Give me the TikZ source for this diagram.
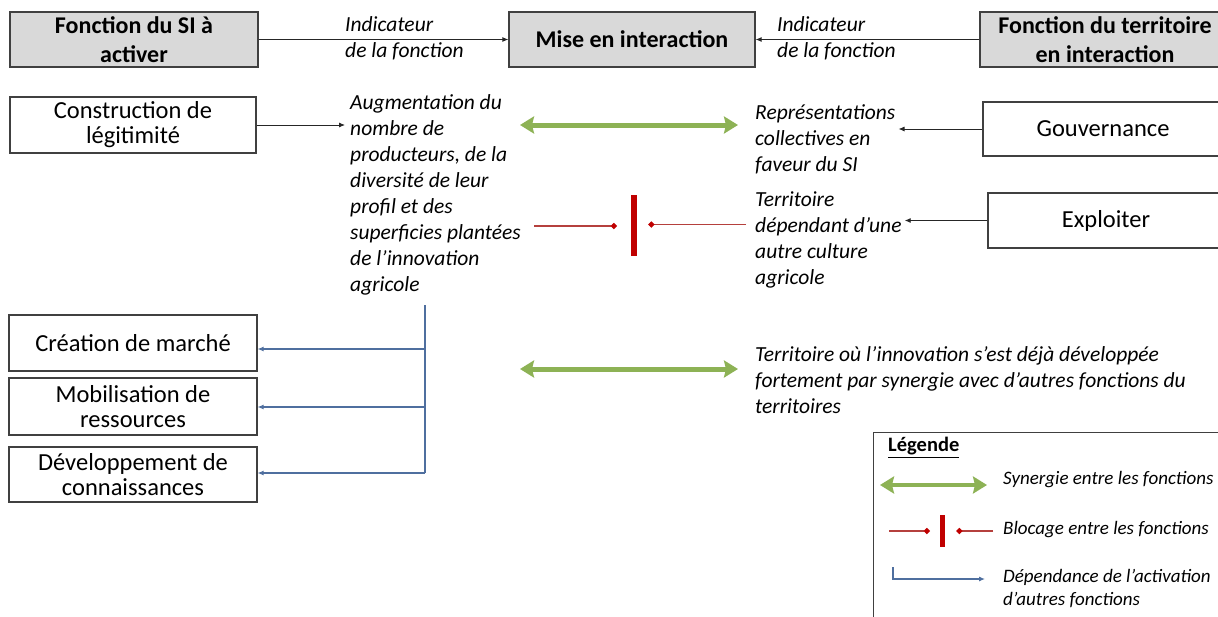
\documentclass[tikz,border=0pt]{standalone}
\usepackage{fontspec}
\setmainfont{Carlito}
\usetikzlibrary{arrows.meta}
\definecolor{grn}{HTML}{8DB255}
\definecolor{redbar}{HTML}{C00000}
\definecolor{redln}{HTML}{B5403D}
\definecolor{blu}{HTML}{4F6F9F}
\definecolor{boxgray}{HTML}{D9D9D9}
\definecolor{edge}{HTML}{404040}
\tikzset{
  hbox/.style={draw=edge, line width=1.2pt, fill=boxgray, align=center, inner sep=0pt,
    font=\fontsize{24}{29}\selectfont\bfseries},
  fbox/.style={draw=edge, line width=1.1pt, fill=white, align=center, inner sep=0pt,
    font=\fontsize{24.5}{25}\selectfont},
  itxt/.style={align=left, inner sep=0pt, font=\fontsize{21.5}{26}\selectfont\itshape},
  ltxt/.style={align=left, inner sep=0pt, font=\fontsize{19}{23}\selectfont\itshape},
  blk/.style={draw=black!85, line width=0.9pt, -{Latex[length=6pt,width=5pt]}},
  syn/.style={draw=grn, line width=5pt, {Stealth[length=14pt,width=17pt,inset=2pt]}-{Stealth[length=14pt,width=17pt,inset=2pt]}},
  blkln/.style={draw=redln, line width=1.3pt, -{Diamond[length=6.5pt,width=6.5pt,fill=redbar,color=redbar]}},
  bar/.style={draw=none, fill=redbar},
  dep/.style={draw=blu, line width=1.1pt},
  deparr/.style={draw=blu, line width=1.1pt, -{Latex[length=6pt,width=5pt]}},
}
\begin{document}
\begin{tikzpicture}[x=1pt,y=-1pt]
\useasboundingbox (0,0) rectangle (1218,616);
\clip (0,0) rectangle (1218,616);

% header
\node[hbox, minimum width=248pt, minimum height=55pt] (si) at (134,39.5) {Fonction du SI à\\activer};
\node[hbox, minimum width=246pt, minimum height=55pt] (mise) at (632,39.5) {Mise en interaction};
\node[hbox, minimum width=250pt, minimum height=55pt] (terr) at (1105,39.5) {Fonction du territoire\\en interaction};
\draw[blk] (si.east) -- (mise.west);
\draw[blk] (terr.west) -- (mise.east);
\node[itxt, anchor=west] (ind1) at (345,38.5) {Indicateur\\de la fonction};
\node[itxt, anchor=west] (ind2) at (777,38.5) {Indicateur\\de la fonction};

% row 1
\node[fbox, minimum width=246pt, minimum height=56pt] (constr) at (133,125) {Construction de\\légitimité};
\node[itxt, anchor=west] (aug) at (350,195) {Augmentation du\\nombre de\\producteurs, de la\\diversité de leur\\profil et des\\superficies plantées\\de l’innovation\\agricole};
\draw[blk] (constr.east) -- ([xshift=-5pt]aug.west |- constr.east);

\node[itxt, anchor=west] (rep) at (755,139) {Représentations\\collectives en\\faveur du SI};
\node[fbox, minimum width=240pt, minimum height=54pt] (gouv) at (1103,129) {Gouvernance};
\draw[blk] (gouv.west) -- ([xshift=3pt]rep.east |- gouv.west);
\draw[syn] (520,125) coordinate (s1a) -- ([xshift=-17pt]rep.west |- s1a);

% row 2 blocage
\node[itxt, anchor=west] (ter) at (755,240) {Territoire\\dépendant d’une\\autre culture\\agricole};
\node[fbox, minimum width=236pt, minimum height=55pt] (expl) at (1106,220.5) {Exploiter};
\draw[blk] (expl.west) -- ([xshift=3pt]ter.east |- expl.west);
\node[bar, minimum width=6pt, minimum height=61pt, inner sep=0pt] (barm) at (634,225.5) {};
\draw[blkln] (534,226) coordinate (r0) -- ([xshift=-17pt]barm.center |- r0);
\draw[blkln] ([xshift=-9pt]ter.west |- 0,224.5) -- ([xshift=14pt]barm.center |- 0,224.5);

% dependance
\node[fbox, minimum width=248pt, minimum height=56pt] (marche) at (133,343) {Création de marché};
\node[fbox, minimum width=248pt, minimum height=57pt] (mobil) at (133,406.5) {Mobilisation de\\ressources};
\node[fbox, minimum width=248pt, minimum height=55pt] (devel) at (133,474.5) {Développement de\\connaissances};
\coordinate (vtop) at (425,305);
\coordinate (vbot) at (425,473);
\draw[dep] (vtop) -- (vbot);
\draw[deparr] (vtop |- 0,349) -- (marche.east |- 0,349);
\draw[deparr] (vtop |- 0,407) -- (mobil.east |- 0,407);
\draw[deparr] (vbot) -- (devel.east |- vbot);

% row 3
\node[itxt, anchor=west] (dev) at (755,380) {Territoire où l’innovation s’est déjà développée\\fortement par synergie avec d’autres fonctions du\\territoires};
\draw[syn] (520,369) coordinate (s3a) -- ([xshift=-17pt]dev.west |- s3a);

% legend
\node[draw=edge, line width=1.1pt, fill=white, minimum width=360pt, minimum height=200pt, anchor=north west, inner sep=0pt] (leg) at (873,432) {};
\node[anchor=west, inner sep=0pt, font=\fontsize{20.5}{22}\selectfont\bfseries] (legt) at (888,447.5) {\underline{Légende}};
\node[ltxt, anchor=west] (l1) at (1003,480) {Synergie entre les fonctions};
\node[ltxt, anchor=west] (l2) at (1003,530) {Blocage entre les fonctions};
\node[ltxt, anchor=west] (l3) at (1003,589) {Dépendance de l’activation\\d’autres fonctions};
\draw[syn, line width=4pt] (880,485) coordinate (g1) -- (987,485) coordinate (g2);
\node[bar, minimum width=5pt, minimum height=32pt, inner sep=0pt] (barl) at (942,531) {};
\draw[blkln] (889,531) coordinate (r1) -- ([xshift=-12pt]barl.center);
\draw[blkln] (993,531) coordinate (r2) -- ([xshift=14pt]barl.center);
\coordinate (b1) at (893,567);
\coordinate (b2) at (893,579);
\coordinate (b3) at (985,579);
\draw[deparr] (b1) -- (b2) -- (b3);
\end{tikzpicture}
\end{document}
